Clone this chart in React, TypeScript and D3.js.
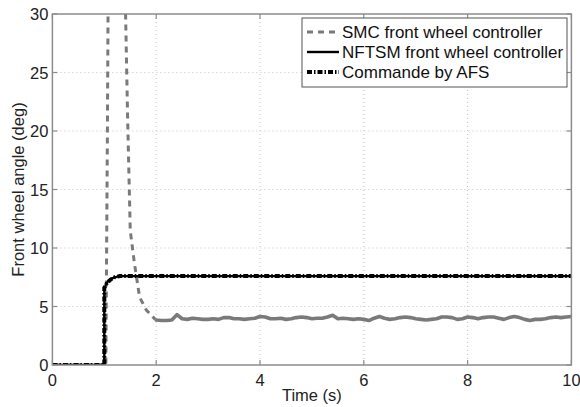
import React from "react";
import * as d3 from "d3";

const xTicks = [0, 2, 4, 6, 8, 10];
const yTicks = [0, 5, 10, 15, 20, 25, 30];

// SMC front wheel controller: transient (time, angle)
const smcTransientT = [0, 0.5, 1.03, 1.06, 1.09, 1.38, 1.41, 1.45, 1.5, 1.58, 1.68, 1.81, 1.98];
const smcTransientV = [0, 0, 0, 20, 45, 45, 30, 21, 11.5, 8.7, 5.8, 4.7, 3.9];
// SMC steady-state (every 0.1 s from 2 to 10)
const smcNoiseTimes = d3.range(0, 81).map(i => 2 + i * 0.1);
const smcNoiseValues = [
  3.85, 3.8, 3.8, 3.85, 4.3, 3.95, 3.9, 4.0, 3.95, 3.9,
  3.9, 3.95, 3.9, 4.05, 4.05, 3.95, 3.95, 3.9, 3.95, 4.0,
  4.15, 4.1, 3.95, 3.95, 4.0, 3.9, 3.95, 4.05, 4.1, 4.05,
  3.95, 4.0, 4.0, 4.1, 4.25, 3.95, 4.0, 3.95, 3.9, 3.95,
  3.9, 3.8, 4.0, 4.15, 4.0, 3.9, 3.95, 4.05, 4.1, 4.05,
  3.95, 3.9, 3.85, 3.9, 3.95, 4.1, 4.1, 4.05, 3.9, 3.95,
  4.1, 4.05, 3.95, 4.05, 4.1, 4.1, 4.0, 3.9, 4.05, 4.15,
  4.05, 3.9, 3.8, 3.9, 3.9, 3.95, 4.05, 4.1, 4.05, 4.1, 4.15,
];

// NFTSM front wheel controller
const nftsmT = [0, 1.0, 1.0, 1.03, 1.08, 1.15, 1.25, 1.35, 10];
const nftsmV = [0, 0, 6.3, 6.9, 7.2, 7.4, 7.55, 7.6, 7.6];

// Commande by AFS
const afsT = [0, 1.0, 1.0, 1.05, 1.12, 1.2, 1.3, 10];
const afsV = [0, 0, 6.6, 7.0, 7.3, 7.5, 7.6, 7.6];

const legendLabels = ["SMC front wheel controller", "NFTSM front wheel controller", "Commande by AFS"];

export default function App() {
  const W = 580, H = 407;
  const left = 52.4, right = 571.4, top = 14, bottom = 365;
  const x = d3.scaleLinear().domain([0, 10]).range([left, right]);
  const y = d3.scaleLinear().domain([0, 30]).range([bottom, top]);
  const line = d3.line<[number, number]>().x(d => x(d[0])).y(d => y(d[1]));

  const smcA = smcTransientT.map((t, i) => [t, smcTransientV[i]] as [number, number]);
  const smcB: [number, number][] = [
    smcA[smcA.length - 1],
    ...smcNoiseTimes.map((t, i) => [t, smcNoiseValues[i]] as [number, number]),
  ];
  const nftsm = nftsmT.map((t, i) => [t, nftsmV[i]] as [number, number]);
  const afs = afsT.map((t, i) => [t, afsV[i]] as [number, number]);

  const font = "Liberation Sans, Arial, sans-serif";
  const axisColor = "#8c8c8c";
  const gray = "#7a7a7a";
  const afsDash = "5,2,1.5,2";

  const styles = [
    { color: gray, width: 2.8, dash: "6,5" },
    { color: "#000", width: 2.4, dash: undefined as string | undefined },
    { color: "#000", width: 4, dash: afsDash },
  ];

  return (
    <svg width={W} height={H} style={{ position: "absolute", left: 0, top: 0 }} fontFamily={font}>
      <defs>
        <clipPath id="plot">
          <rect x={left} y={top} width={right - left} height={bottom - top} />
        </clipPath>
      </defs>
      <rect x={0} y={0} width={W} height={H} fill="#fff" />
      {xTicks.slice(1, -1).map(t => (
        <line key={"gx" + t} x1={x(t)} x2={x(t)} y1={top} y2={bottom} stroke="#c4c4c4" strokeDasharray="1,3" />
      ))}
      {yTicks.slice(1, -1).map(t => (
        <line key={"gy" + t} x1={left} x2={right} y1={y(t)} y2={y(t)} stroke="#c4c4c4" strokeDasharray="1,3" />
      ))}
      <g clipPath="url(#plot)">
        <path d={line(smcA) || ""} fill="none" stroke={gray} strokeWidth={3} strokeDasharray="6,5" />
        <path d={line(smcB) || ""} fill="none" stroke={gray} strokeWidth={3.6} strokeLinejoin="round" />
        <path d={line(nftsm) || ""} fill="none" stroke="#000" strokeWidth={2.4} />
        <path d={line(afs) || ""} fill="none" stroke="#000" strokeWidth={4} strokeDasharray={afsDash} />
      </g>
      <rect x={left} y={top} width={right - left} height={bottom - top} fill="none" stroke={axisColor} strokeWidth={1.5} />
      {xTicks.map(t => (
        <g key={"xt" + t}>
          <line x1={x(t)} x2={x(t)} y1={bottom} y2={bottom - 5} stroke={axisColor} strokeWidth={1.2} />
          <line x1={x(t)} x2={x(t)} y1={top} y2={top + 5} stroke={axisColor} strokeWidth={1.2} />
          <text x={x(t)} y={bottom + 21} textAnchor="middle" fontSize={16.5} fill="#222">{t}</text>
        </g>
      ))}
      {yTicks.map(t => (
        <g key={"yt" + t}>
          <line x1={left} x2={left + 5} y1={y(t)} y2={y(t)} stroke={axisColor} strokeWidth={1.2} />
          <line x1={right} x2={right - 5} y1={y(t)} y2={y(t)} stroke={axisColor} strokeWidth={1.2} />
          <text x={left - 4} y={y(t) + 6} textAnchor="end" fontSize={16.5} fill="#222">{t}</text>
        </g>
      ))}
      <text x={(left + right) / 2} y={401} textAnchor="middle" fontSize={16.5} fill="#222">Time (s)</text>
      <text transform={`translate(24,${(top + bottom) / 2}) rotate(-90)`} textAnchor="middle" fontSize={16.5} fill="#222">
        Front wheel angle (deg)
      </text>
      <g>
        <rect x={302} y={18} width={265} height={69} fill="#fff" stroke="#555" strokeWidth={1} />
        {legendLabels.map((label, i) => {
          const cy = 32 + i * 20;
          const s = styles[i];
          return (
            <g key={label}>
              <line x1={307} x2={339} y1={cy} y2={cy} stroke={s.color} strokeWidth={s.width} strokeDasharray={s.dash} />
              <text x={342} y={cy + 6} fontSize={17} fill="#111">{label}</text>
            </g>
          );
        })}
      </g>
    </svg>
  );
}
